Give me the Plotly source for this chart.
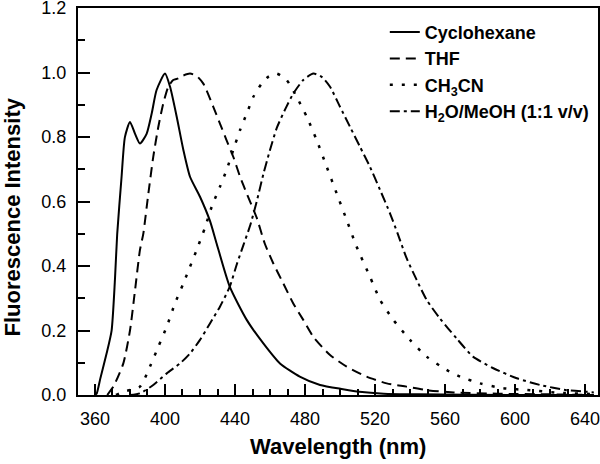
import plotly.graph_objects as go

# ---------------- data ----------------
cyc_wl = [360, 361, 363, 366.7, 369.5, 371.4, 372.7, 375.2, 377.1, 380, 382.9, 385.7, 389.5,
          392.4, 395.2, 400, 402.9, 406.7, 410.5, 414.3, 420, 425.7, 429.5, 437, 446.7,
          456.2, 465.7, 477, 488.6, 501.7, 511, 525, 545, 600, 645]
cyc_int = [0.0, 0.005, 0.05, 0.13, 0.20, 0.357, 0.50, 0.677, 0.80, 0.847, 0.81, 0.78, 0.81,
           0.873, 0.946, 0.997, 0.956, 0.863, 0.76, 0.677, 0.615, 0.54, 0.47, 0.336, 0.233,
           0.16, 0.098, 0.057, 0.031, 0.018, 0.01, 0.004, 0.002, 0.0, 0.0]

thf_wl = [367, 370.5, 376.2, 380, 382.9, 385.7, 387.6, 390.5, 393.3, 396.2, 399, 401.9, 404.7,
          407.6, 410, 414.3, 418, 421.9, 427.6, 431.4, 435.2, 439, 442.9, 446.7, 452.4, 457,
          461.9, 467.6, 473.3, 479, 484.8, 494.3, 503.8, 515.2, 526.7, 538, 549.5, 565, 590,
          620, 645]
thf_int = [0.0, 0.026, 0.098, 0.20, 0.326, 0.45, 0.50, 0.625, 0.739, 0.832, 0.904, 0.956, 0.977,
           0.982, 0.99, 0.997, 0.99, 0.966, 0.894, 0.842, 0.79, 0.739, 0.677, 0.625, 0.55, 0.47,
           0.408, 0.346, 0.284, 0.233, 0.18, 0.124, 0.088, 0.057, 0.036, 0.026, 0.015, 0.008,
           0.004, 0.002, 0.0]

ch3cn_wl = [372, 376.2, 385.7, 391.4, 396.2, 401, 405.7, 410.5, 414.3, 418.1, 422.9, 426.7,
            431.4, 435.2, 439, 442.9, 446.7, 450.5, 455.2, 459, 463.8, 469.5, 475.2, 481,
            486.7, 492.4, 498.1, 503.8, 509.5, 517.1, 522.9, 530.5, 540, 549.5, 560.9, 568.6,
            580, 593.3, 608.6, 625, 645]
ch3cn_int = [0.0, 0.01, 0.026, 0.088, 0.15, 0.212, 0.284, 0.346, 0.398, 0.45, 0.52, 0.584,
             0.646, 0.698, 0.76, 0.822, 0.873, 0.925, 0.966, 0.987, 0.997, 0.977, 0.925, 0.863,
             0.79, 0.708, 0.625, 0.543, 0.46, 0.367, 0.295, 0.233, 0.171, 0.119, 0.078, 0.057,
             0.036, 0.021, 0.015, 0.007, 0.003]

h2o_wl = [380, 385.7, 393.3, 401, 408.6, 414.3, 420, 425.7, 431.4, 437, 441, 444.8, 448.6,
          452.4, 456.2, 460, 464, 469, 473.3, 479, 484.8, 489.5, 494.3, 500, 505.7,
          511.4, 517.1, 522.9, 528.6, 533, 538, 543.8, 549.5, 557, 566.7, 576, 587.6, 601,
          614.3, 629.5, 641, 645]
h2o_int = [0.0, 0.005, 0.031, 0.067, 0.098, 0.129, 0.171, 0.222, 0.274, 0.336, 0.405, 0.465,
           0.525, 0.60, 0.685, 0.76, 0.83, 0.89, 0.935, 0.977, 0.997, 0.987, 0.956,
           0.894, 0.832, 0.77, 0.708, 0.636, 0.563, 0.50, 0.425, 0.357, 0.295, 0.238, 0.175,
           0.119, 0.083, 0.052, 0.031, 0.015, 0.01, 0.008]

series_names = ["Cyclohexane", "THF", "CH<sub>3</sub>CN", "H<sub>2</sub>O/MeOH (1:1 v/v)"]
x_ticks = [360, 400, 440, 480, 520, 560, 600, 640]
y_ticks = [0.0, 0.2, 0.4, 0.6, 0.8, 1.0, 1.2]

FONT = "Liberation Sans, Arial, sans-serif"

fig = go.Figure()
styles = [
    dict(dash="solid", width=2),
    dict(dash="10px,6px", width=2),
    dict(dash="3px,9px", width=2.5),
    dict(dash="10px,4px,3px,4px", width=2),
]
for (wl, it), name, st in zip(
    [(cyc_wl, cyc_int), (thf_wl, thf_int), (ch3cn_wl, ch3cn_int), (h2o_wl, h2o_int)],
    series_names, styles):
    fig.add_trace(go.Scatter(
        x=wl, y=it, mode="lines", name=name,
        line=dict(color="black", width=st["width"], dash=st["dash"], shape="spline", smoothing=0.6),
    ))

fig.update_layout(
    width=600, height=464,
    margin=dict(l=78, r=2, t=8, b=69, autoexpand=False),
    paper_bgcolor="white", plot_bgcolor="white",
    font=dict(family=FONT, color="black", size=18),
    showlegend=True,
    legend=dict(
        x=0.59, y=0.985, xanchor="left", yanchor="top",
        bgcolor="rgba(0,0,0,0)", borderwidth=0,
        font=dict(family=FONT, size=18, color="black", weight="bold"),
        tracegroupgap=0, itemwidth=30,
    ),
)

fig.update_xaxes(
    range=[350.3, 647.4], tickvals=x_ticks, ticktext=[str(v) for v in x_ticks],
    ticks="inside", ticklen=11, tickwidth=2, tickcolor="black",
    minor=dict(dtick=10, tick0=0, ticks="inside", ticklen=6, tickwidth=2, tickcolor="black"),
    showline=True, linewidth=2, linecolor="black", mirror=True,
    showgrid=False, zeroline=False, automargin=False,
    tickfont=dict(family=FONT, size=18, color="black"),
    ticklabelstandoff=6, ticklabeloverflow="allow",
)
fig.update_yaxes(
    range=[0, 1.2005], tickvals=y_ticks, ticktext=["%.1f" % v for v in y_ticks],
    ticks="inside", ticklen=12, tickwidth=2, tickcolor="black",
    minor=dict(dtick=0.1, tick0=0, ticks="inside", ticklen=7, tickwidth=2, tickcolor="black"),
    showline=True, linewidth=2, linecolor="black", mirror=True,
    showgrid=False, zeroline=False, automargin=False,
    tickfont=dict(family=FONT, size=18, color="black"),
    ticklabelstandoff=6, ticklabeloverflow="allow",
)

fig.add_annotation(
    text="<b>Wavelength (nm)</b>", xref="paper", yref="paper",
    x=0.5, y=-0.132, xanchor="center", yanchor="middle", showarrow=False,
    font=dict(family=FONT, size=22, color="black"),
)
fig.add_annotation(
    text="<b>Fluorescence Intensity</b>", xref="paper", yref="paper",
    x=-0.126, y=0.46, xanchor="center", yanchor="middle", showarrow=False, textangle=-90,
    font=dict(family=FONT, size=22, color="black"),
)

fig.write_html(
    "out.html",
    config={"displayModeBar": False},
    post_script="document.body.style.margin='0';document.body.style.overflow='hidden';",
)
